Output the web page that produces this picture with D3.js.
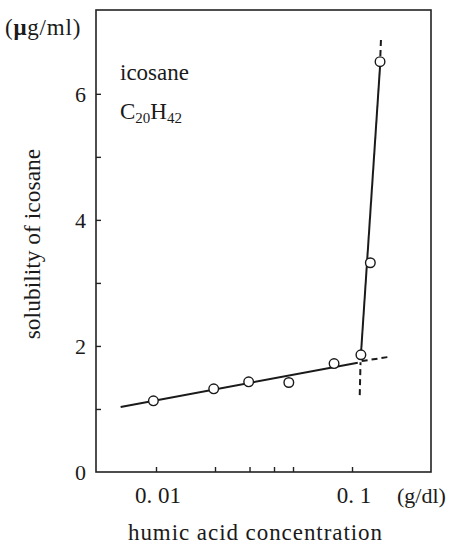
<!DOCTYPE html>
<html>
<head>
<meta charset="utf-8">
<script src="https://cdn.jsdelivr.net/npm/d3@7"></script>
<style>
  body { margin: 0; background: #fff; }
  text { font-family: "Liberation Serif", "DejaVu Serif", serif; fill: #1a1a1a; }
</style>
</head>
<body>
<script>
// measured points (humic acid conc g/dl, solubility ug/ml)
let conc = [0.0097, 0.0197, 0.0297, 0.0476, 0.081, 0.111, 0.124, 0.139];
let solub = [1.13, 1.32, 1.43, 1.42, 1.72, 1.86, 3.32, 6.51];

// fitted lines
let lowFitX = [0.0066, 0.107];
let lowFitY = [1.03, 1.735];
let lowDashX = [0.112, 0.157];
let lowDashY = [1.76, 1.83];
let steepX = [0.111, 0.1395];
let steepY = [1.86, 6.51];
let steepDashLoX = [0.1095, 0.1105];
let steepDashLoY = [1.22, 1.74];
let steepDashHiX = [0.1395, 0.1405];
let steepDashHiY = [6.6, 6.86];

let xTicks = [0.01, 0.02, 0.03, 0.04, 0.05, 0.1];
let xTickLabels = [[0.01, "0. 01"], [0.1, "0. 1"]];
let yTicks = [1, 2, 3, 4, 5, 6];
let yTickLabels = [0, 2, 4, 6];

let width = 457;
let height = 547;
let margin = {top: 10, right: 26, bottom: 75, left: 96};

let x = d3.scaleLog()
          .domain([0.004942, 0.2529])
          .range([margin.left, width - margin.right]);
let y = d3.scaleLinear()
          .domain([0, 7.33])
          .range([height - margin.bottom, margin.top]);

let svg = d3.select("body")
            .append("svg")
            .attr("width", width)
            .attr("height", height);

// frame
svg.append("rect")
   .attr("x", margin.left)
   .attr("y", margin.top)
   .attr("width", width - margin.left - margin.right)
   .attr("height", height - margin.top - margin.bottom)
   .attr("fill", "none")
   .attr("stroke", "#222")
   .attr("stroke-width", 1.6);

// ticks point inward
svg.append("g")
   .attr("transform", `translate(0,${y(0)})`)
   .call(d3.axisTop(x).tickValues(xTicks).tickSize(5).tickFormat(""))
   .call(g => g.select(".domain").remove())
   .selectAll("line").attr("stroke", "#222").attr("stroke-width", 1.4);

svg.append("g")
   .attr("transform", `translate(${x.range()[0]},0)`)
   .call(d3.axisRight(y).tickValues(yTicks).tickSize(5).tickFormat(""))
   .call(g => g.select(".domain").remove())
   .selectAll("line").attr("stroke", "#222").attr("stroke-width", 1.4);

// tick labels
svg.selectAll(".xlab")
   .data(xTickLabels)
   .enter().append("text")
   .attr("class", "xlab")
   .attr("x", d => x(d[0]) + 2)
   .attr("y", 503)
   .attr("text-anchor", "middle")
   .attr("font-size", 23)
   .text(d => d[1]);

svg.append("text")
   .attr("x", 397)
   .attr("y", 503)
   .attr("font-size", 22)
   .text("(g/dl)");

svg.selectAll(".ylab")
   .data(yTickLabels)
   .enter().append("text")
   .attr("class", "ylab")
   .attr("x", 86)
   .attr("y", d => y(d) + 8)
   .attr("text-anchor", "end")
   .attr("font-size", 22)
   .text(d => d);

// units on top-left
let unit = svg.append("text")
   .attr("x", 5)
   .attr("y", 35)
   .attr("font-size", 23)
   .attr("letter-spacing", 0.8);
unit.append("tspan").text("(");
unit.append("tspan").attr("font-weight", "bold").text("\u03bc");
unit.append("tspan").text("g/ml)");

// axis titles
svg.append("text")
   .attr("x", 255)
   .attr("y", 540)
   .attr("text-anchor", "middle")
   .attr("font-size", 23)
   .attr("textLength", 254)
   .attr("lengthAdjust", "spacing")
   .text("humic acid concentration");

svg.append("text")
   .attr("transform", "translate(40,244) rotate(-90)")
   .attr("text-anchor", "middle")
   .attr("font-size", 23.5)
   .text("solubility of icosane");

// compound annotation
svg.append("text")
   .attr("x", 120)
   .attr("y", 80)
   .attr("font-size", 23)
   .text("icosane");

let formula = svg.append("text")
   .attr("x", 120)
   .attr("y", 119)
   .attr("font-size", 23);
formula.append("tspan").text("C");
formula.append("tspan").attr("font-size", 15).attr("dy", 4).text("20");
formula.append("tspan").attr("dy", -4).text("H");
formula.append("tspan").attr("font-size", 15).attr("dy", 4).text("42");

// lines
let line = d3.line().x(d => x(d[0])).y(d => y(d[1]));
let segs = [
  [lowFitX, lowFitY, null],
  [lowDashX, lowDashY, "6,4"],
  [steepX, steepY, null],
  [steepDashLoX, steepDashLoY, "6,4"],
  [steepDashHiX, steepDashHiY, "6,4"]
];
segs.forEach(function(s) {
  svg.append("path")
     .datum(s[0].map((v, i) => [v, s[1][i]]))
     .attr("d", line)
     .attr("fill", "none")
     .attr("stroke", "#1a1a1a")
     .attr("stroke-width", 2)
     .attr("stroke-dasharray", s[2]);
});

// points
svg.selectAll(".pt")
   .data(conc.map((c, i) => [c, solub[i]]))
   .enter().append("circle")
   .attr("class", "pt")
   .attr("cx", d => x(d[0]))
   .attr("cy", d => y(d[1]))
   .attr("r", 4.8)
   .attr("fill", "#fff")
   .attr("stroke", "#1a1a1a")
   .attr("stroke-width", 1.4);
</script>
</body>
</html>
